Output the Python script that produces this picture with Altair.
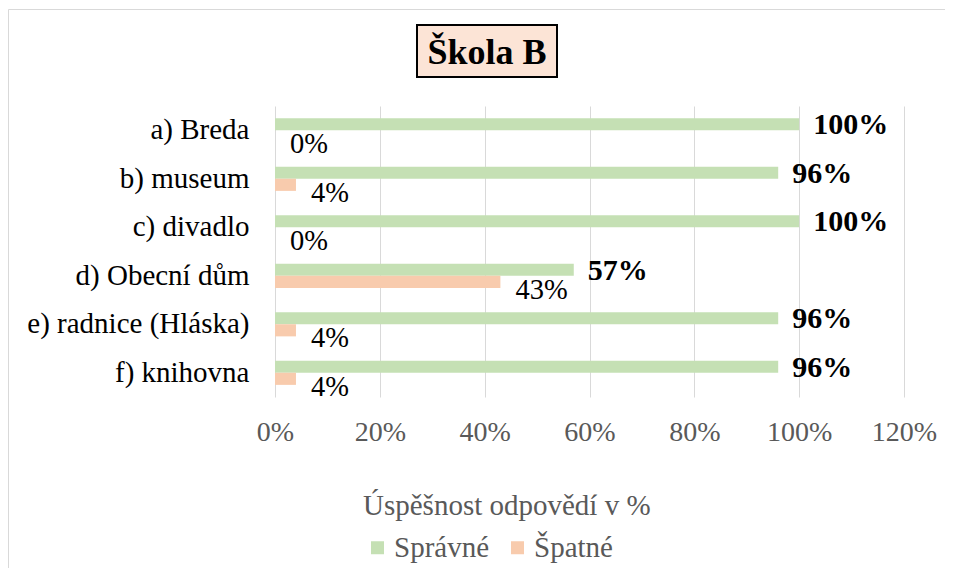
import altair as alt
import pandas as pd

categories = ["a) Breda", "b) museum", "c) divadlo", "d) Obecní dům",
              "e) radnice (Hláska)", "f) knihovna"]
spravne = [1.00, 0.96, 1.00, 0.57, 0.96, 0.96]
spatne = [0.00, 0.04, 0.00, 0.43, 0.04, 0.04]
series = ["Správné", "Špatné"]
colors = ["#C5E0B4", "#F8CBAD"]
x_ticks = [0, 0.2, 0.4, 0.6, 0.8, 1.0, 1.2]
chart_title = "Škola B"
legend_title = "Úspěšnost odpovědí v %"

rows = []
for c, a, b in zip(categories, spravne, spatne):
    rows.append({"kat": c, "serie": series[0], "hodnota": a})
    rows.append({"kat": c, "serie": series[1], "hodnota": b})
df = pd.DataFrame(rows)
title_df = pd.DataFrame({"t": [chart_title]})

W, H = 629, 291
FONT = "Liberation Serif"

y_enc = alt.Y("kat:N", sort=categories, title=None,
              scale=alt.Scale(paddingInner=0.5, paddingOuter=0.25),
              axis=alt.Axis(labelFont=FONT, labelFontSize=29, labelColor="#000000",
                            labelPadding=26, labelLimit=400, ticks=False, tickSize=0,
                            domain=False, grid=False))
x_enc = alt.X("hodnota:Q", title=None, scale=alt.Scale(domain=[0, 1.2], nice=False),
              axis=alt.Axis(values=x_ticks, format=".0%", labelFont=FONT, labelFontSize=28,
                            labelColor="#595959", labelPadding=21, labelFlush=False,
                            labelOverlap=False, ticks=False, tickSize=0,
                            domain=False, grid=True, gridColor="#D9D9D9", gridWidth=1))

bars = alt.Chart(df).mark_bar().encode(
    x=x_enc,
    y=y_enc,
    yOffset=alt.YOffset("serie:N", sort=series,
                        scale=alt.Scale(paddingInner=0, paddingOuter=0)),
    color=alt.Color("serie:N", sort=series,
                    scale=alt.Scale(domain=series, range=colors),
                    legend=alt.Legend(title=legend_title, orient="none", legendX=88, legendY=386,
                                      direction="horizontal", titleOrient="top", titleAnchor="start",
                                      titleFont=FONT, titleFontSize=29, titleFontWeight="normal",
                                      titleColor="#595959", titlePadding=12, titleLimit=500,
                                      labelFont=FONT, labelFontSize=29, labelColor="#595959",
                                      labelLimit=300, symbolType="square", symbolSize=169,
                                      symbolStrokeWidth=0, labelOffset=2,
                                      columnPadding=13, padding=0)),
)

green_text = alt.Chart(df).transform_filter(alt.datum.serie == series[0]).mark_text(
    align="left", baseline="alphabetic", dx=14, dy=4, font=FONT, fontSize=30,
    fontWeight="bold", color="#000000"
).encode(
    x=alt.X("hodnota:Q"),
    y=alt.Y("kat:N", sort=categories),
    text=alt.Text("hodnota:Q", format=".0%"),
)

orange_text = alt.Chart(df).transform_filter(alt.datum.serie == series[1]).mark_text(
    align="left", baseline="alphabetic", dx=15, dy=23, font=FONT, fontSize=28.5,
    color="#000000"
).encode(
    x=alt.X("hodnota:Q"),
    y=alt.Y("kat:N", sort=categories),
    text=alt.Text("hodnota:Q", format=".0%"),
)

title_box = alt.Chart(title_df).mark_rect(fill="#FCE4D6", stroke="#000000", strokeWidth=2).encode(
    x=alt.value(142), x2=alt.value(282), y=alt.value(-81), y2=alt.value(-29)
)
title_text = alt.Chart(title_df).mark_text(
    font=FONT, fontSize=36, fontWeight="bold", baseline="alphabetic", align="center",
    color="#000000"
).encode(x=alt.value(212), y=alt.value(-42), text="t:N")

border_top = alt.Chart(title_df).mark_rule(color="#D9D9D9", strokeWidth=1).encode(
    x=alt.value(-266.5), x2=alt.value(670), y=alt.value(-96.5)
)
border_left = alt.Chart(title_df).mark_rule(color="#D9D9D9", strokeWidth=1).encode(
    x=alt.value(-266.5), y=alt.value(-96.5), y2=alt.value(462)
)

chart = alt.layer(
    border_top, border_left, bars, green_text, orange_text, title_box, title_text
).properties(
    width=W, height=H,
    padding={"left": 0, "top": 1, "right": 0, "bottom": 0},
).configure_view(stroke=None)

chart.save("out.html", embed_options={"renderer": "svg", "actions": False})
